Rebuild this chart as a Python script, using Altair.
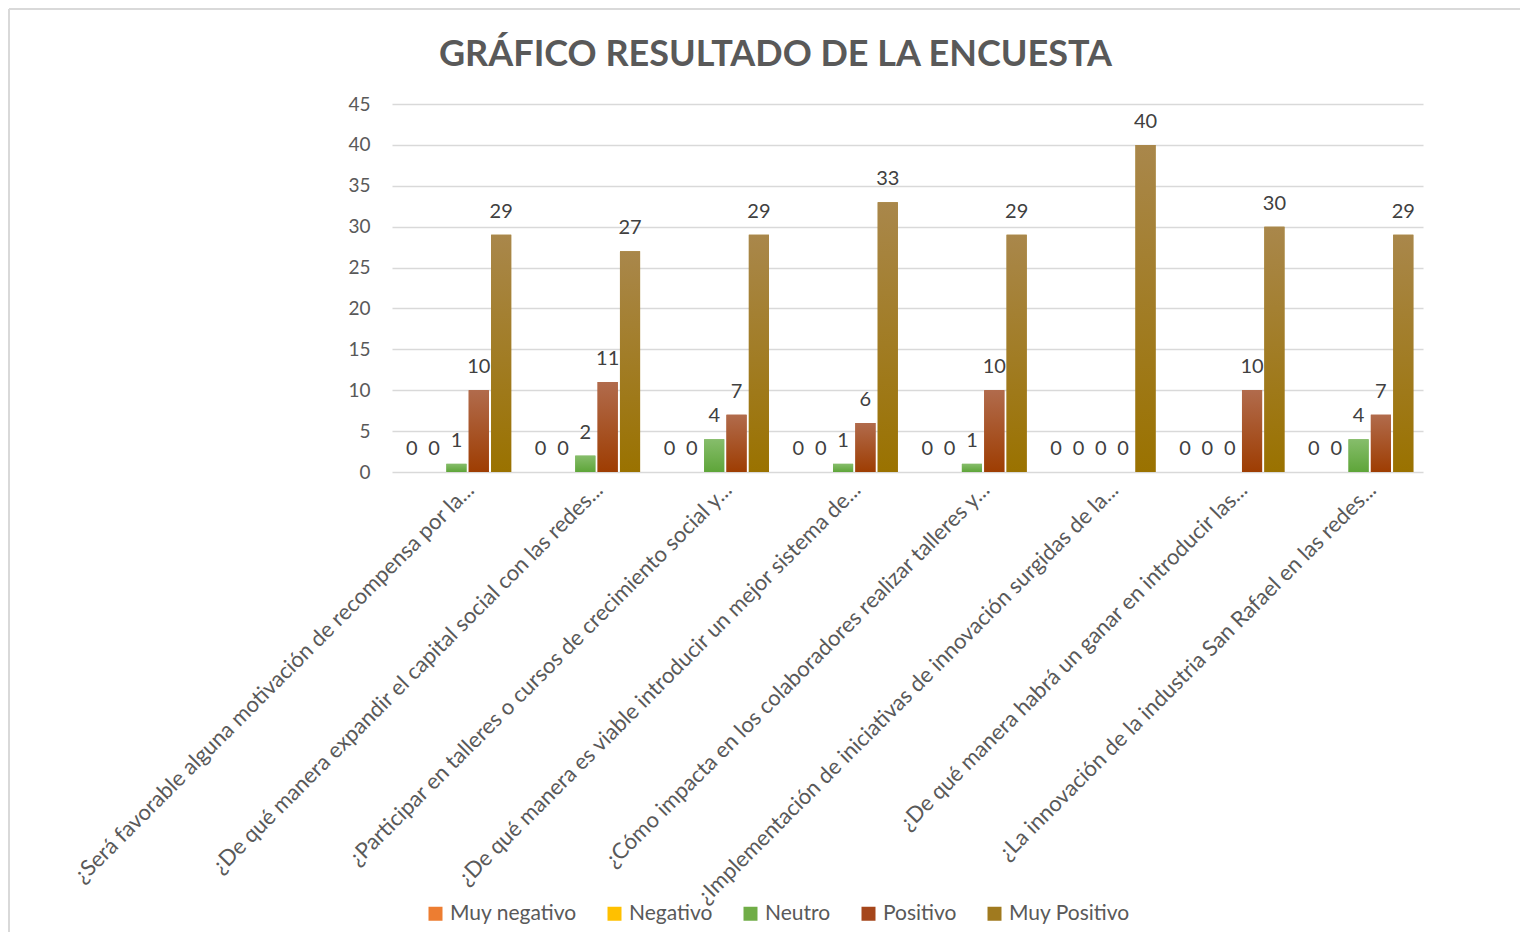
import altair as alt
import pandas as pd

categories = [
    "¿Será favorable alguna motivación de recompensa por la...",
    "¿De qué manera expandir el capital social con las redes...",
    "¿Participar en talleres o cursos de crecimiento social y...",
    "¿De qué manera es viable introducir un mejor sistema de...",
    "¿Cómo impacta en los colaboradores realizar talleres y...",
    "¿Implementación de iniciativas de innovación surgidas de la...",
    "¿De qué manera habrá un ganar en introducir las...",
    "¿La innovación de la industria San Rafael en las redes...",
]
series = ["Muy negativo", "Negativo", "Neutro", "Positivo", "Muy Positivo"]
muy_negativo = [0, 0, 0, 0, 0, 0, 0, 0]
negativo = [0, 0, 0, 0, 0, 0, 0, 0]
neutro = [1, 2, 4, 1, 1, 0, 0, 4]
positivo = [10, 11, 7, 6, 10, 0, 10, 7]
muy_positivo = [29, 27, 29, 33, 29, 40, 30, 29]
colors = ["#ED7D31", "#FFC000", "#70AD47", "#A5461B", "#A07A1F"]
gradients = {
    "Neutro": ("#86BD6B", "#5EA539"),
    "Positivo": ("#B16B4C", "#9E3D02"),
    "Muy Positivo": ("#A9874B", "#9A7200"),
}

values = [muy_negativo, negativo, neutro, positivo, muy_positivo]
rows = []
for s, vals in zip(series, values):
    for c, v in zip(categories, vals):
        rows.append({"pregunta": c, "serie": s, "valor": v})
df = pd.DataFrame(rows)

FONT = "Lato"
GRAY = "#595959"

x_enc = alt.X(
    "pregunta:N",
    sort=categories,
    scale=alt.Scale(paddingInner=0.15, paddingOuter=0.075),
    axis=alt.Axis(
        title=None,
        labelAngle=-45,
        labelAlign="right",
        labelBaseline="middle",
        labelFontSize=22,
        labelFont=FONT,
        labelColor=GRAY,
        labelLimit=0,
        labelPadding=14,
        labelOffset=14,
        ticks=False,
        domain=False,
        grid=False,
    ),
)
xoff_enc = alt.XOffset(
    "serie:N", sort=series, scale=alt.Scale(domain=series, paddingInner=0.1)
)
y_enc = alt.Y(
    "valor:Q",
    scale=alt.Scale(domain=[0, 45]),
    axis=alt.Axis(
        title=None,
        values=list(range(0, 50, 5)),
        grid=True,
        gridColor="#D9D9D9",
        gridWidth=1.5,
        domain=False,
        ticks=False,
        labelFontSize=19,
        labelFont=FONT,
        labelColor=GRAY,
        labelPadding=22,
    ),
)

base = alt.Chart(df)

bars = base.mark_bar().encode(
    x=x_enc,
    xOffset=xoff_enc,
    y=y_enc,
    color=alt.Color(
        "serie:N",
        sort=series,
        scale=alt.Scale(domain=series, range=colors),
        legend=alt.Legend(
            title=None,
            orient="none",
            legendX=33,
            legendY=799,
            direction="horizontal",
            symbolType="square",
            symbolSize=196,
            symbolStrokeWidth=0,
            labelFontSize=21,
            labelFont=FONT,
            labelColor=GRAY,
            labelOffset=4,
            columnPadding=27,
        ),
    ),
)

layers = [bars]
for s, (top, bottom) in gradients.items():
    grad = alt.Gradient(
        gradient="linear",
        stops=[
            alt.GradientStop(color=top, offset=0),
            alt.GradientStop(color=bottom, offset=1),
        ],
        x1=0, x2=0, y1=0, y2=1,
    )
    layers.append(
        base.transform_filter(alt.datum.serie == s)
        .mark_bar(color=grad)
        .encode(x=x_enc, xOffset=xoff_enc, y=y_enc)
    )

labels = base.mark_text(
    baseline="alphabetic", dy=-17, fontSize=20, font=FONT, color="#404040"
).encode(x=x_enc, xOffset=xoff_enc, y=y_enc, text="valor:Q")
layers.append(labels)

# decorative chart-area frame (top and left edges)
frame_src = alt.Chart(pd.DataFrame({"k": [0]}))
frame_top = frame_src.mark_rule(color="#D9D9D9", strokeWidth=2).encode(
    x=alt.value(-383), x2=alt.value(1140), y=alt.value(-95)
)
frame_left = frame_src.mark_rule(color="#D9D9D9", strokeWidth=2).encode(
    x=alt.value(-383), y=alt.value(-95), y2=alt.value(850)
)
layers += [frame_top, frame_left]

chart = (
    alt.layer(*layers)
    .properties(
        width=1031,
        height=368,
        title=alt.TitleParams(
            "GRÁFICO RESULTADO DE LA ENCUESTA",
            font=FONT,
            fontSize=36,
            fontWeight="bold",
            color=GRAY,
            anchor="middle",
            dx=-132,
            dy=88,
            offset=22,
        ),
        autosize=alt.AutoSizeParams(type="none"),
        padding={"left": 384, "top": 96, "right": 97, "bottom": 460},
    )
    .configure_view(stroke=None)
)

chart.save("out.html", embed_options={"renderer": "svg", "actions": False})
